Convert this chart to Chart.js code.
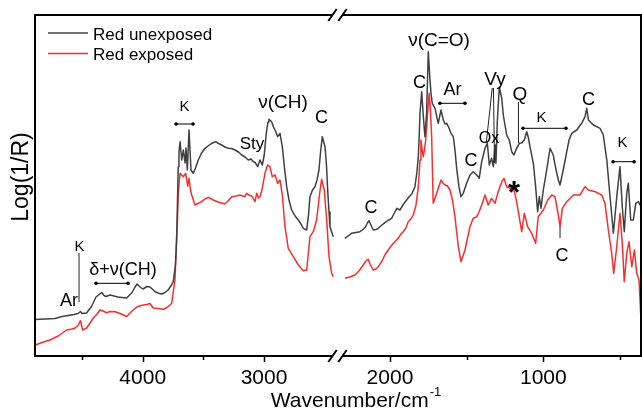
<!DOCTYPE html>
<html lang="en">
<head>
    <meta charset="UTF-8">
    <title>Log(1/R) - Red unexposed / exposed</title>
    <style>
        html, body {
            margin: 0;
            padding: 0;
            background: #fff;
        }
        #wrap {
            width: 642px;
            height: 410px;
        }
    </style>
</head>
<body>
    <div id="wrap">
        <canvas id="spectra" width="642" height="410"></canvas>
    </div>

    <script src="https://cdn.jsdelivr.net/npm/chart.js"></script>

    <script>
        // [wavenumber cm-1, Log(1/R) arb. units]
        // high range (left of the axis break)
        const unexposedHigh = [
            [4885,0.365],[4805,0.37],[4723,0.375],[4665,0.395],[4616,0.405],[4566,0.415],[4533,0.425],[4513,0.445],
            [4500,0.425],[4463,0.43],[4422,0.495],[4385,0.59],[4364,0.61],[4338,0.635],[4319,0.605],[4303,0.595],
            [4270,0.61],[4237,0.60],[4204,0.59],[4171,0.585],[4132,0.58],[4091,0.63],[4063,0.69],[4047,0.72],
            [4022,0.69],[3998,0.67],[3965,0.695],[3940,0.69],[3899,0.645],[3874,0.63],[3843,0.62],[3816,0.635],
            [3791,0.66],[3767,0.70],[3748,0.743],[3730,0.91],[3720,1.16],[3713,1.56],[3707,1.893],[3701,2.04],
            [3692,2.143],[3678,1.96],[3665,2.06],[3651,1.93],[3643,2.08],[3632,1.86],[3618,2.26],[3602,1.86],
            [3583,1.827],[3565,1.88],[3542,1.96],[3515,2.03],[3486,2.077],[3462,2.10],[3431,2.127],[3398,2.143],
            [3375,2.125],[3349,2.11],[3322,2.09],[3294,2.077],[3268,2.075],[3239,2.06],[3210,2.04],[3184,2.01],
            [3157,1.99],[3129,1.96],[3107,1.97],[3088,1.943],[3070,1.93],[3052,1.893],[3033,1.96],[3014,1.91],
            [2998,2.01],[2988,2.14],[2978,2.26],[2967,2.34],[2959,2.367],[2937,2.343],[2922,2.29],[2909,2.26],
            [2887,2.193],[2868,2.227],[2849,2.093],[2831,1.88],[2813,1.693],[2794,1.56],[2772,1.46],[2744,1.40],
            [2717,1.36],[2695,1.32],[2676,1.277],[2648,1.26],[2633,1.41],[2621,1.593],[2600,1.66],[2580,1.693],
            [2563,1.76],[2547,1.86],[2532,2.06],[2519,2.193],[2497,2.093],[2485,1.91],[2475,1.66],[2464,1.44],
            [2456,1.293],[2429,1.193]
        ];
        const exposedHigh = [
            [4885,0.11],[4830,0.135],[4764,0.16],[4698,0.20],[4627,0.26],[4583,0.27],[4558,0.28],[4533,0.305],
            [4513,0.353],[4495,0.26],[4462,0.28],[4434,0.33],[4407,0.38],[4379,0.415],[4352,0.46],[4327,0.45],
            [4297,0.433],[4270,0.445],[4228,0.443],[4187,0.425],[4132,0.395],[4096,0.44],[4049,0.49],[4014,0.505],
            [3967,0.515],[3940,0.525],[3913,0.48],[3874,0.475],[3830,0.467],[3800,0.485],[3775,0.51],[3761,0.527],
            [3748,0.64],[3734,0.76],[3720,1.21],[3715,1.31],[3707,1.61],[3698,1.76],[3692,1.827],[3680,1.81],
            [3665,1.793],[3646,1.827],[3629,1.70],[3618,1.777],[3606,1.66],[3596,1.61],[3569,1.51],[3544,1.525],
            [3514,1.543],[3486,1.57],[3459,1.587],[3418,1.56],[3379,1.54],[3322,1.52],[3297,1.55],[3266,1.593],
            [3231,1.60],[3198,1.61],[3157,1.593],[3143,1.627],[3124,1.61],[3101,1.60],[3074,1.543],[3060,1.627],
            [3045,1.58],[3033,1.593],[3014,1.677],[2992,1.827],[2970,1.91],[2951,1.893],[2932,1.793],[2909,1.81],
            [2887,1.727],[2868,1.76],[2849,1.61],[2827,1.293],[2800,1.077],[2758,0.993],[2717,0.91],[2676,0.853],
            [2648,0.86],[2633,1.04],[2621,1.193],[2594,1.243],[2566,1.36],[2543,1.61],[2525,1.767],[2503,1.66],
            [2483,1.36],[2464,0.993],[2442,0.827],[2429,0.793]
        ];
        // low range (right of the axis break)
        const unexposedLow = [
            [2294,1.177],[2274,1.20],[2250,1.227],[2222,1.235],[2196,1.243],[2176,1.265],[2159,1.293],[2147,1.33],
            [2137,1.353],[2124,1.31],[2109,1.26],[2091,1.265],[2076,1.277],[2052,1.31],[2033,1.333],[2013,1.355],
            [1989,1.377],[1971,1.43],[1956,1.477],[1935,1.46],[1915,1.51],[1891,1.56],[1876,1.59],[1858,1.62],
            [1837,1.693],[1824,1.84],[1815,1.993],[1809,2.21],[1804,2.427],[1793,2.643],[1783,2.41],[1772,2.193],
            [1761,2.427],[1755,2.76],[1750,3.043],[1739,2.76],[1731,2.61],[1724,2.527],[1706,2.477],[1693,2.38],
            [1685,2.327],[1674,2.41],[1667,2.46],[1652,2.36],[1641,2.32],[1630,2.327],[1615,2.28],[1602,2.227],
            [1587,2.193],[1576,2.06],[1565,1.877],[1550,1.693],[1537,1.593],[1522,1.627],[1500,1.727],[1478,1.81],
            [1457,1.843],[1434,1.81],[1418,1.777],[1402,1.943],[1380,2.077],[1365,2.127],[1352,1.91],[1337,1.977],
            [1326,1.893],[1315,2.11],[1309,1.927],[1300,2.343],[1287,2.69],[1271,2.577],[1261,2.41],[1250,2.31],
            [1239,2.21],[1222,2.16],[1206,2.043],[1191,2.01],[1174,2.077],[1157,2.127],[1141,2.13],[1124,2.16],
            [1108,2.243],[1097,2.18],[1087,2.093],[1065,1.927],[1050,1.693],[1037,1.443],[1026,1.593],[1015,1.477],
            [1000,1.66],[978,1.86],[956,2.077],[935,2.01],[919,1.877],[902,1.76],[891,1.71],[870,1.86],
            [847,2.043],[832,2.16],[815,2.227],[782,2.26],[750,2.327],[728,2.393],[717,2.477],[706,2.36],
            [674,2.31],[630,2.277],[609,2.21],[586,1.96],[565,1.593],[543,1.227],[521,1.593],[500,1.893],
            [485,1.493],[472,1.243],[456,1.627],[446,1.727],[430,1.36],[413,1.36],[397,1.527],[380,1.543],
            [363,1.493]
        ];
        const exposedLow = [
            [2294,0.777],[2261,0.79],[2228,0.81],[2202,0.85],[2174,0.91],[2157,0.95],[2142,0.967],[2127,0.91],
            [2109,0.86],[2091,0.87],[2076,0.893],[2052,0.95],[2033,1.01],[2007,1.07],[1978,1.127],[1946,1.177],
            [1928,1.22],[1913,1.243],[1896,1.28],[1881,1.343],[1863,1.37],[1848,1.41],[1830,1.51],[1815,1.693],
            [1804,1.96],[1798,2.16],[1790,2.06],[1783,1.993],[1775,2.06],[1767,2.16],[1755,2.41],[1744,2.627],
            [1736,2.46],[1728,2.193],[1723,1.86],[1718,1.527],[1706,1.58],[1695,1.627],[1680,1.70],[1667,1.76],
            [1654,1.73],[1641,1.71],[1625,1.70],[1609,1.66],[1592,1.56],[1576,1.393],[1565,1.24],[1554,1.093],
            [1537,0.943],[1524,1.00],[1511,1.06],[1494,1.18],[1478,1.293],[1457,1.377],[1434,1.393],[1419,1.44],
            [1402,1.51],[1380,1.61],[1359,1.51],[1337,1.577],[1315,1.527],[1294,1.643],[1271,1.743],[1256,1.777],
            [1239,1.693],[1217,1.677],[1196,1.693],[1174,1.543],[1163,1.443],[1141,1.243],[1124,1.427],[1102,1.293],
            [1076,1.227],[1050,1.127],[1033,1.393],[1000,1.46],[971,1.56],[945,1.61],[924,1.593],[906,1.443],
            [891,1.293],[876,1.477],[847,1.543],[804,1.61],[761,1.61],[728,1.693],[706,1.66],[663,1.643],
            [619,1.61],[598,1.527],[576,1.26],[554,1.027],[541,0.827],[521,1.093],[500,1.427],[485,1.127],
            [472,0.743],[456,1.027],[441,1.143],[423,0.893],[406,1.06],[391,0.827],[376,0.76],[363,0.36]
        ];

        const seriesNames = ['Red unexposed', 'Red exposed'];
        const seriesColors = ['#404040', '#ff2b2b'];

        // axis ranges either side of the break, and tick values
        const highRange = [2394, 4888];
        const lowRange = [363, 2342];
        const highTicks = [4500, 4000, 3500, 3000];
        const lowTicks = [2000, 1500, 1000, 500];

        // band assignments written on the figure
        const bandLabels = [
            { t: 'Ar', ax: 'xL', x: 4608, y: 0.55, s: 18 },
            { t: 'K', ax: 'xL', x: 4521, y: 1.095, s: 15 },
            { t: 'δ+ν(CH)', ax: 'xL', x: 4162, y: 0.86, s: 18 },
            { t: 'K', ax: 'xL', x: 3655, y: 2.49, s: 15 },
            { t: 'Sty', ax: 'xL', x: 3099, y: 2.12, s: 17 },
            { t: 'ν(CH)', ax: 'xL', x: 2843, y: 2.53, s: 19 },
            { t: 'C', ax: 'xL', x: 2526, y: 2.375, s: 18 },
            { t: 'C', ax: 'xR', x: 2124, y: 1.475, s: 18 },
            { t: 'ν(C=O)', ax: 'xR', x: 1680, y: 3.15, s: 19 },
            { t: 'C', ax: 'xR', x: 1808, y: 2.725, s: 18 },
            { t: 'Ar', ax: 'xR', x: 1592, y: 2.66, s: 18 },
            { t: 'C', ax: 'xR', x: 1472, y: 1.945, s: 18 },
            { t: 'Ox', ax: 'xR', x: 1354, y: 2.17, s: 16 },
            { t: 'Vy', ax: 'xR', x: 1315, y: 2.76, s: 19 },
            { t: 'Q', ax: 'xR', x: 1152, y: 2.61, s: 19 },
            { t: 'K', ax: 'xR', x: 1012, y: 2.385, s: 15 },
            { t: 'C', ax: 'xR', x: 705, y: 2.56, s: 18 },
            { t: 'K', ax: 'xR', x: 483, y: 2.135, s: 15 },
            { t: '*', ax: 'xR', x: 1191, y: 1.62, s: 31, bold: true },
            { t: 'C', ax: 'xR', x: 878, y: 0.995, s: 18 }
        ];
        // range bars (dot - dot)
        const bandRanges = [
            { ax: 'xL', from: 4385, to: 4121, y: 0.727 },
            { ax: 'xL', from: 3725, to: 3585, y: 2.32 },
            { ax: 'xR', from: 1674, to: 1511, y: 2.527 },
            { ax: 'xR', from: 1132, to: 852, y: 2.277 },
            { ax: 'xR', from: 545, to: 408, y: 1.943 }
        ];
        // leader lines from labels to peaks
        const leaders = [
            { ax: 'xL', x1: 4525, y1: 1.03, x2: 4525, y2: 0.54 },
            { ax: 'xR', x1: 1333, y1: 2.68, x2: 1372, y2: 2.13 },
            { ax: 'xR', x1: 1325, y1: 2.68, x2: 1318, y2: 1.93 },
            { ax: 'xR', x1: 1162, y1: 2.54, x2: 1162, y2: 2.13 },
            { ax: 'xR', x1: 891, y1: 1.293, x2: 891, y2: 1.18 }
        ];

        const FONT = "'Liberation Sans', Arial, sans-serif";

        function toPoints(pairs) {
            return pairs.map(p => ({ x: p[0], y: p[1] }));
        }

        function lineSet(i, pairs, axisId) {
            return {
                label: seriesNames[i],
                data: toPoints(pairs),
                xAxisID: axisId,
                yAxisID: 'y',
                borderColor: seriesColors[i],
                borderWidth: 1.5,
                borderJoinStyle: 'round',
                pointRadius: 0,
                tension: 0,
                fill: false
            };
        }

        function brokenAxis(range, tickValues, weight) {
            return {
                type: 'linear',
                position: 'bottom',
                stack: 'wavenumber',
                stackWeight: weight,
                reverse: true,
                min: range[0],
                max: range[1],
                grid: { display: false, drawTicks: false },
                border: { display: false },
                ticks: {
                    autoSkip: false,
                    maxRotation: 0,
                    padding: 10,
                    color: '#000',
                    font: { family: FONT, size: 21 },
                    callback: v => (v % 1000 === 0 ? String(v) : '')
                },
                afterBuildTicks: scale => {
                    scale.ticks = tickValues.map(v => ({ value: v }));
                },
                afterFit: scale => {
                    scale.height = 54;
                }
            };
        }

        // frame with the // break, tick marks, legend, axis titles, band labels
        const decorations = {
            id: 'decorations',
            afterDatasetsDraw(chart) {
                const ctx = chart.ctx;
                const area = chart.chartArea;
                const yScale = chart.scales.y;
                const left = chart.scales.xL;
                const right = chart.scales.xR;
                const gapA = left.right - 5;
                const gapB = right.left + 5;

                ctx.save();
                ctx.strokeStyle = '#000';
                ctx.lineWidth = 2;
                ctx.beginPath();
                ctx.moveTo(area.left, area.top - 1);
                ctx.lineTo(area.left, area.bottom + 1);
                ctx.moveTo(area.right, area.top - 1);
                ctx.lineTo(area.right, area.bottom + 1);
                [area.top, area.bottom].forEach(y => {
                    ctx.moveTo(area.left - 1, y);
                    ctx.lineTo(gapA, y);
                    ctx.moveTo(gapB, y);
                    ctx.lineTo(area.right + 1, y);
                });
                ctx.stroke();

                ctx.beginPath();
                [area.top, area.bottom].forEach(y => {
                    [gapA, gapB].forEach(x => {
                        ctx.moveTo(x - 4.2, y + 6);
                        ctx.lineTo(x + 4.2, y - 6);
                    });
                });
                ctx.stroke();

                // tick marks
                ctx.lineWidth = 1.5;
                ctx.beginPath();
                [[left, highTicks], [right, lowTicks]].forEach(([scale, vals]) => {
                    vals.forEach(v => {
                        const px = Math.round(scale.getPixelForValue(v)) + 0.5;
                        const len = v % 1000 === 0 ? 6 : 4;
                        ctx.moveTo(px, area.bottom);
                        ctx.lineTo(px, area.bottom + len);
                    });
                });
                ctx.stroke();

                // legend
                ctx.font = '17px ' + FONT;
                ctx.textAlign = 'left';
                ctx.textBaseline = 'alphabetic';
                seriesNames.forEach((name, i) => {
                    const y = area.top + 18 + i * 20.6;
                    ctx.strokeStyle = seriesColors[i];
                    ctx.lineWidth = 1.5;
                    ctx.beginPath();
                    ctx.moveTo(area.left + 13, y);
                    ctx.lineTo(area.left + 53, y);
                    ctx.stroke();
                    ctx.fillStyle = '#000';
                    ctx.fillText(name, area.left + 58, y + 6.6);
                });

                // x title with superscript
                ctx.fillStyle = '#000';
                const main = 'Wavenumber/cm';
                const sup = '-1';
                ctx.font = '21px ' + FONT;
                const w1 = ctx.measureText(main).width;
                ctx.font = '13px ' + FONT;
                const w2 = ctx.measureText(sup).width;
                const x0 = 356 - (w1 + w2 + 1) / 2;
                ctx.font = '21px ' + FONT;
                ctx.fillText(main, x0, 406.5);
                ctx.font = '13px ' + FONT;
                ctx.fillText(sup, x0 + w1 + 1, 396);

                // y title
                ctx.save();
                ctx.translate(22, 177);
                ctx.rotate(-Math.PI / 2);
                ctx.font = '23px ' + FONT;
                ctx.textAlign = 'center';
                ctx.textBaseline = 'middle';
                ctx.fillText('Log(1/R)', 0, 0);
                ctx.restore();

                // leader lines
                ctx.strokeStyle = '#222';
                ctx.lineWidth = 1;
                ctx.beginPath();
                leaders.forEach(l => {
                    const sc = chart.scales[l.ax];
                    ctx.moveTo(sc.getPixelForValue(l.x1), yScale.getPixelForValue(l.y1));
                    ctx.lineTo(sc.getPixelForValue(l.x2), yScale.getPixelForValue(l.y2));
                });
                ctx.stroke();

                // range bars
                ctx.strokeStyle = '#000';
                bandRanges.forEach(b => {
                    const sc = chart.scales[b.ax];
                    const xa = sc.getPixelForValue(b.from);
                    const xb = sc.getPixelForValue(b.to);
                    const y = yScale.getPixelForValue(b.y);
                    ctx.beginPath();
                    ctx.moveTo(xa, y);
                    ctx.lineTo(xb, y);
                    ctx.stroke();
                    [xa, xb].forEach(x => {
                        ctx.beginPath();
                        ctx.arc(x, y, 1.8, 0, Math.PI * 2);
                        ctx.fill();
                    });
                });

                // labels
                ctx.textAlign = 'center';
                ctx.textBaseline = 'middle';
                bandLabels.forEach(lb => {
                    const sc = chart.scales[lb.ax];
                    ctx.font = (lb.bold ? 'bold ' : '') + lb.s + 'px ' + FONT;
                    ctx.fillText(lb.t, sc.getPixelForValue(lb.x), yScale.getPixelForValue(lb.y));
                });
                ctx.restore();
            }
        };

        const chart = new Chart(document.getElementById('spectra'), {
            type: 'line',
            data: {
                datasets: [
                    lineSet(0, unexposedHigh, 'xL'),
                    lineSet(0, unexposedLow, 'xR'),
                    lineSet(1, exposedHigh, 'xL'),
                    lineSet(1, exposedLow, 'xR')
                ]
            },
            options: {
                responsive: false,
                animation: false,
                devicePixelRatio: 1,
                layout: { padding: { left: 35, top: 15, right: 1, bottom: 0 } },
                plugins: {
                    legend: { display: false },
                    tooltip: { enabled: false }
                },
                scales: {
                    xL: brokenAxis(highRange, highTicks, 302.5),
                    xR: brokenAxis(lowRange, lowTicks, 303.5),
                    y: { display: false, min: 0, max: 3.41 }
                }
            },
            plugins: [decorations]
        });
    </script>
</body>
</html>
